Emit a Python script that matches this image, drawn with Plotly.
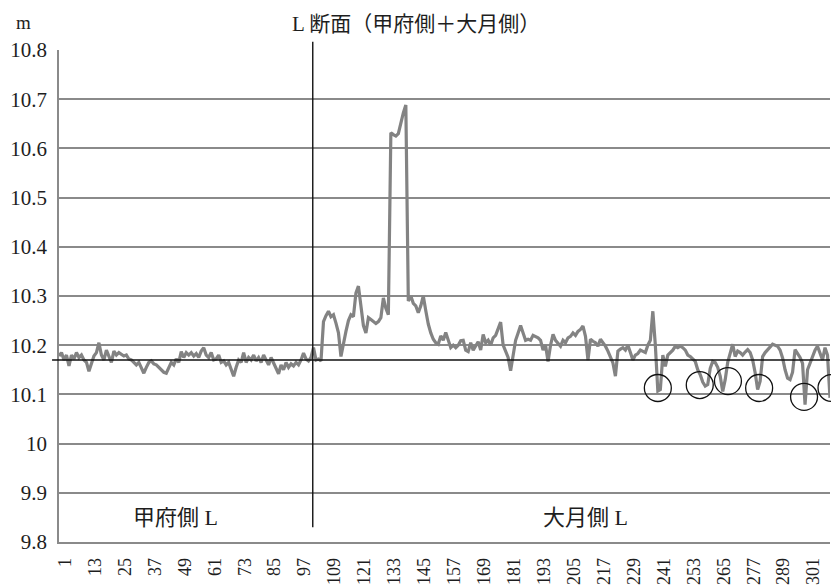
import plotly.graph_objects as go

# ---------------- data ----------------
kofu_side = [  # points 1..106
    10.178, 10.185, 10.170, 10.180, 10.158, 10.180, 10.172, 10.185, 10.175, 10.180,
    10.170, 10.165, 10.147, 10.165, 10.178, 10.185, 10.205, 10.180, 10.170, 10.190,
    10.175, 10.165, 10.188, 10.180, 10.185, 10.182, 10.178, 10.180, 10.172, 10.170,
    10.165, 10.160, 10.165, 10.155, 10.143, 10.155, 10.165, 10.168, 10.162, 10.160,
    10.155, 10.150, 10.145, 10.143, 10.155, 10.165, 10.160, 10.172, 10.165, 10.187,
    10.175, 10.185, 10.180, 10.185, 10.178, 10.183, 10.175, 10.188, 10.195, 10.180,
    10.175, 10.185, 10.170, 10.172, 10.180, 10.165, 10.168, 10.160, 10.165, 10.150,
    10.137, 10.155, 10.170, 10.165, 10.185, 10.165, 10.175, 10.170, 10.180, 10.168,
    10.175, 10.165, 10.180, 10.170, 10.160, 10.175, 10.165, 10.155, 10.142, 10.160,
    10.150, 10.165, 10.155, 10.162, 10.158, 10.165, 10.160, 10.170, 10.184, 10.172,
    10.168, 10.175, 10.195, 10.170, 10.172, 10.168,
]
otsuki_side = [  # points 107..310
    10.248, 10.260, 10.269, 10.258, 10.262, 10.245, 10.225, 10.177, 10.205, 10.228,
    10.250, 10.262, 10.258, 10.306, 10.320, 10.285, 10.240, 10.225, 10.256, 10.252,
    10.248, 10.244, 10.248, 10.256, 10.296, 10.275, 10.262, 10.632, 10.628, 10.625,
    10.630, 10.655, 10.672, 10.688, 10.290, 10.300, 10.285, 10.280, 10.266, 10.280,
    10.300, 10.270, 10.243, 10.225, 10.212, 10.205, 10.202, 10.219, 10.210, 10.226,
    10.210, 10.195, 10.200, 10.195, 10.200, 10.209, 10.210, 10.190, 10.187, 10.205,
    10.190, 10.200, 10.207, 10.190, 10.222, 10.205, 10.210, 10.200, 10.215, 10.220,
    10.235, 10.247, 10.200, 10.187, 10.175, 10.148, 10.180, 10.210, 10.225, 10.240,
    10.225, 10.210, 10.212, 10.210, 10.220, 10.218, 10.215, 10.210, 10.190, 10.200,
    10.167, 10.200, 10.222, 10.210, 10.205, 10.198, 10.210, 10.205, 10.215, 10.218,
    10.225, 10.220, 10.228, 10.232, 10.239, 10.218, 10.170, 10.212, 10.208, 10.205,
    10.198, 10.212, 10.205, 10.198, 10.188, 10.175, 10.164, 10.137, 10.188, 10.192,
    10.195, 10.190, 10.200, 10.185, 10.170, 10.180, 10.183, 10.190, 10.187, 10.185,
    10.200, 10.210, 10.269, 10.200, 10.107, 10.110, 10.180, 10.157, 10.180, 10.185,
    10.190, 10.198, 10.195, 10.198, 10.195, 10.190, 10.180, 10.177, 10.172, 10.167,
    10.150, 10.140, 10.125, 10.117, 10.120, 10.153, 10.167, 10.165, 10.155, 10.137,
    10.106, 10.130, 10.165, 10.181, 10.202, 10.177, 10.188, 10.185, 10.180, 10.186,
    10.191, 10.185, 10.170, 10.144, 10.110, 10.127, 10.177, 10.185, 10.191, 10.196,
    10.202, 10.200, 10.198, 10.190, 10.174, 10.150, 10.133, 10.130, 10.145, 10.191,
    10.184, 10.175, 10.163, 10.079, 10.150, 10.165, 10.177, 10.190, 10.198, 10.185,
    10.170, 10.195, 10.180, 10.093,
]
heights = kofu_side + otsuki_side
points = list(range(1, len(heights) + 1))

y_ticks = [9.8, 9.9, 10.0, 10.1, 10.2, 10.3, 10.4, 10.5, 10.6, 10.7, 10.8]
y_tick_text = ["9.8", "9.9", "10", "10.1", "10.2", "10.3", "10.4", "10.5", "10.6", "10.7", "10.8"]
x_ticks = list(range(1, 302, 12))

reference_level = 10.17
divider_point = 102.7
# marked low points: (point index, height)
circle_marks = [(241.0, 10.113), (257.8, 10.119), (269.1, 10.127),
                (281.6, 10.113), (299.6, 10.095), (310.6, 10.113)]

title_text = "L 断面（甲府側＋大月側）"
unit_text = "m"
left_label = "甲府側 L"
right_label = "大月側 L"

# ---------------- figure ----------------
SERIF = "'Liberation Serif', 'Times New Roman', 'Noto Sans CJK JP', serif"
TXT = "#1e1e1e"
x_min, x_max = 1, len(heights)
y_min, y_max = 9.8, 10.8

fig = go.Figure()
fig.add_trace(go.Scatter(
    x=points, y=heights, mode="lines",
    line=dict(color="#838383", width=3.2),
    hoverinfo="x+y", showlegend=False,
))

grid_col = "#8a8a8a"
# page body has an 8px default margin; the figure is sized to fit the window
fig.update_layout(
    width=831, height=579,
    margin=dict(l=51, r=9, t=42, b=45, autoexpand=False),
    paper_bgcolor="white", plot_bgcolor="white",
    font=dict(family=SERIF, color=TXT, size=18),
    xaxis=dict(
        range=[x_min, x_max], tickmode="array", tickvals=x_ticks,
        tickangle=-90, showgrid=False, zeroline=False, automargin=False,
        showline=True, linecolor=grid_col, linewidth=1.6,
        ticks="", tickfont=dict(size=18, family=SERIF, color=TXT),
        ticklabelstandoff=7, ticklabelshift=6,
    ),
    yaxis=dict(
        range=[y_min, y_max], tickmode="array", tickvals=y_ticks, ticktext=y_tick_text,
        showgrid=True, gridcolor=grid_col, gridwidth=1.6, zeroline=False, automargin=False,
        showline=True, linecolor=grid_col, linewidth=1.6,
        ticks="", tickfont=dict(size=21, family=SERIF, color=TXT),
        ticklabelstandoff=6,
    ),
)

# horizontal reference level
fig.add_shape(type="line", xref="paper", yref="y",
              x0=-0.009, x1=1.0, y0=reference_level, y1=reference_level,
              line=dict(color="#111111", width=1.4), layer="above")
# vertical divider between the two sides
fig.add_shape(type="line", xref="x", yref="paper",
              x0=divider_point, x1=divider_point, y0=0.03, y1=1.017,
              line=dict(color="#111111", width=1.4), layer="above")

# circles around low points (paper x so they are not clipped)
rx_pts, ry_val = 5.4, 0.0274
for cx, cy in circle_marks:
    px0 = (cx - rx_pts - x_min) / (x_max - x_min)
    px1 = (cx + rx_pts - x_min) / (x_max - x_min)
    fig.add_shape(type="circle", xref="paper", yref="y",
                  x0=px0, x1=px1, y0=cy - ry_val, y1=cy + ry_val,
                  line=dict(color="#111111", width=1.3), layer="above")

top_y = 1.082  # just inside the top edge of the figure
fig.add_annotation(text=title_text, xref="paper", yref="paper",
                   x=0.4635, y=top_y, yanchor="top", xanchor="center", showarrow=False,
                   font=dict(size=21, family=SERIF, color=TXT))
fig.add_annotation(text=unit_text, xref="paper", yref="paper",
                   x=-0.046, y=top_y, yanchor="top", xanchor="center", showarrow=False,
                   font=dict(size=19, family=SERIF, color=TXT))
fig.add_annotation(text=left_label, x=47.5, y=9.85, xref="x", yref="y",
                   showarrow=False, xanchor="center", yanchor="middle",
                   font=dict(size=22, family=SERIF, color=TXT))
fig.add_annotation(text=right_label, x=212, y=9.85, xref="x", yref="y",
                   showarrow=False, xanchor="center", yanchor="middle",
                   font=dict(size=22, family=SERIF, color=TXT))

fig.write_html("out.html")
